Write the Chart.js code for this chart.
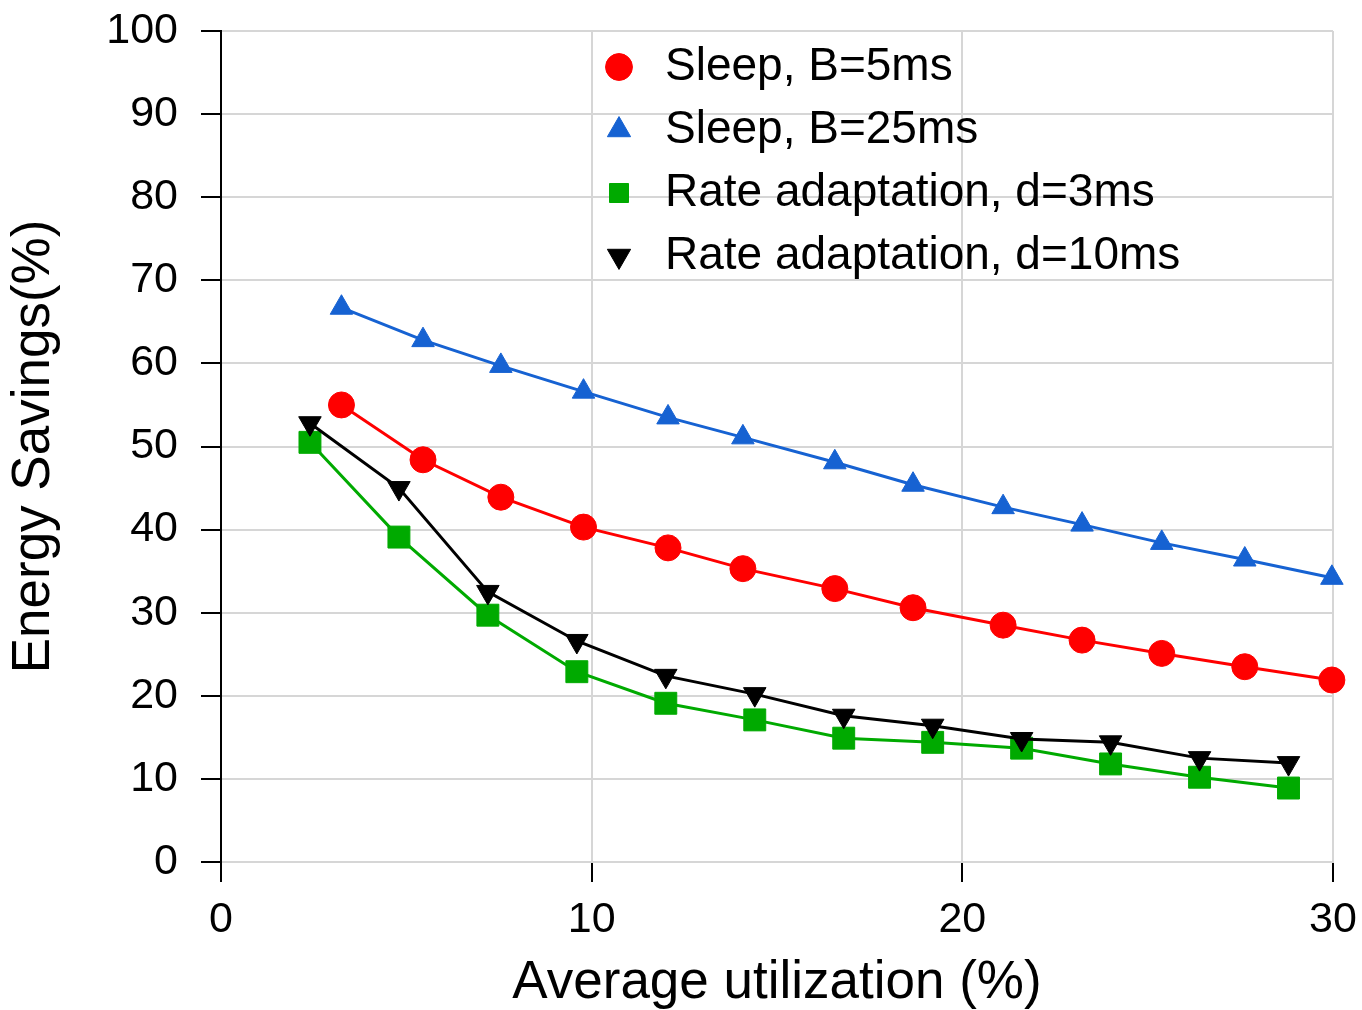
<!DOCTYPE html>
<html lang="en">
  <head>
    <meta charset="UTF-8" />
    <title>Energy Savings</title>
    <style>
      body {
        margin: 0;
        background: #fff;
      }
      .plot {
        width: 1362px;
        height: 1010px;
      }
    </style>
  </head>
  <body>
    <div class="plot">
      <canvas id="mychart" width="1362" height="1010"></canvas>
    </div>

    <script src="https://cdn.jsdelivr.net/npm/chart.js@4/dist/chart.umd.min.js"></script>
    <script>
      // values
      const sleepUtil = [3.25, 5.45, 7.55, 9.78, 12.06, 14.08, 16.56, 18.67, 21.1, 23.23, 25.38, 27.62, 29.97];
      const sleep5 = [55.0, 48.4, 43.9, 40.3, 37.8, 35.3, 32.9, 30.6, 28.5, 26.7, 25.1, 23.5, 21.9];
      const sleep25 = [66.7, 62.8, 59.7, 56.6, 53.5, 51.1, 48.1, 45.4, 42.7, 40.6, 38.4, 36.4, 34.2];

      const rateUtil = [2.4, 4.8, 7.2, 9.6, 12.0, 14.4, 16.8, 19.2, 21.6, 24.0, 26.4, 28.8];
      const rate3 = [50.5, 39.1, 29.7, 22.9, 19.1, 17.1, 14.9, 14.4, 13.7, 11.8, 10.2, 8.9];
      const rate10 = [52.8, 45.0, 32.5, 26.6, 22.4, 20.2, 17.6, 16.4, 14.8, 14.4, 12.5, 11.9];

      const seriesNames = [
        "Sleep, B=5ms",
        "Sleep, B=25ms",
        "Rate adaptation, d=3ms",
        "Rate adaptation, d=10ms",
      ];
      const xTitle = "Average utilization (%)";
      const yTitle = "Energy Savings(%)";

      const FONT = "'Liberation Sans', Arial, sans-serif";

      function toPoints(xs, ys) {
        return xs.map((x, i) => ({ x: x, y: ys[i] }));
      }

      function series(name, xs, ys, color, style, radius, rotation, order) {
        return {
          label: name,
          data: toPoints(xs, ys),
          borderColor: color,
          backgroundColor: color,
          borderWidth: 3,
          pointStyle: style,
          pointRadius: radius,
          pointRotation: rotation,
          pointBackgroundColor: color,
          pointBorderColor: color,
          pointBorderWidth: 1,
          tension: 0,
          clip: false,
          order: order,
        };
      }

      // put the legend inside the plot, upper middle
      const legendSpot = {
        id: "legendSpot",
        afterLayout(chart) {
          const lg = chart.legend;
          if (!lg) return;
          const w = lg.width;
          const h = lg.height;
          lg.left = 579;
          lg.top = 27;
          lg.right = lg.left + w;
          lg.bottom = lg.top + h;
        },
      };

      const mychart = document.getElementById("mychart");

      new Chart(mychart, {
        type: "line",
        data: {
          datasets: [
            series(seriesNames[0], sleepUtil, sleep5, "#ff0000", "circle", 13, 0, 2),
            series(seriesNames[1], sleepUtil, sleep25, "#1662d2", "triangle", 13, 0, 3),
            series(seriesNames[2], rateUtil, rate3, "#00aa00", "rect", 15.5, 0, 1),
            series(seriesNames[3], rateUtil, rate10, "#000000", "triangle", 13, 180, 0),
          ],
        },
        options: {
          responsive: false,
          animation: false,
          layout: {
            padding: { left: 0, top: 31, right: 29, bottom: 0 },
          },
          plugins: {
            tooltip: { enabled: false },
            legend: {
              position: "chartArea",
              align: "start",
              fullSize: false,
              labels: {
                usePointStyle: true,
                boxWidth: 46,
                boxHeight: 19,
                padding: 17,
                color: "#000",
                font: { family: FONT, size: 46 },
                sort: (a, b) => a.datasetIndex - b.datasetIndex,
              },
            },
          },
          scales: {
            x: {
              type: "linear",
              min: 0,
              max: 30,
              ticks: {
                stepSize: 10,
                padding: 12,
                color: "#000",
                font: { family: FONT, size: 43 },
              },
              grid: {
                color: "#d6d6d6",
                lineWidth: 2,
                tickColor: "#000",
                tickLength: 20,
                tickWidth: 2,
              },
              border: { color: "#d6d6d6", width: 2 },
              title: {
                display: true,
                text: xTitle,
                color: "#000",
                font: { family: FONT, size: 53, lineHeight: 1 },
                padding: { top: 0, bottom: 0 },
              },
              afterFit(scale) {
                scale.height = 148;
                scale.paddingLeft = 0;
                scale.paddingRight = 0;
              },
            },
            y: {
              min: 0,
              max: 100,
              ticks: {
                stepSize: 10,
                padding: 23,
                color: "#000",
                font: { family: FONT, size: 43 },
              },
              grid: {
                color: "#d6d6d6",
                lineWidth: 2,
                tickColor: "#000",
                tickLength: 20,
                tickWidth: 2,
              },
              border: { color: "#000", width: 2 },
              title: {
                display: true,
                text: yTitle,
                color: "#000",
                font: { family: FONT, size: 53, lineHeight: 1 },
                padding: { top: 8, bottom: 0 },
              },
              afterFit(scale) {
                scale.width = 221;
                scale.paddingTop = 0;
                scale.paddingBottom = 0;
              },
            },
          },
        },
        plugins: [legendSpot],
      });
    </script>
  </body>
</html>
